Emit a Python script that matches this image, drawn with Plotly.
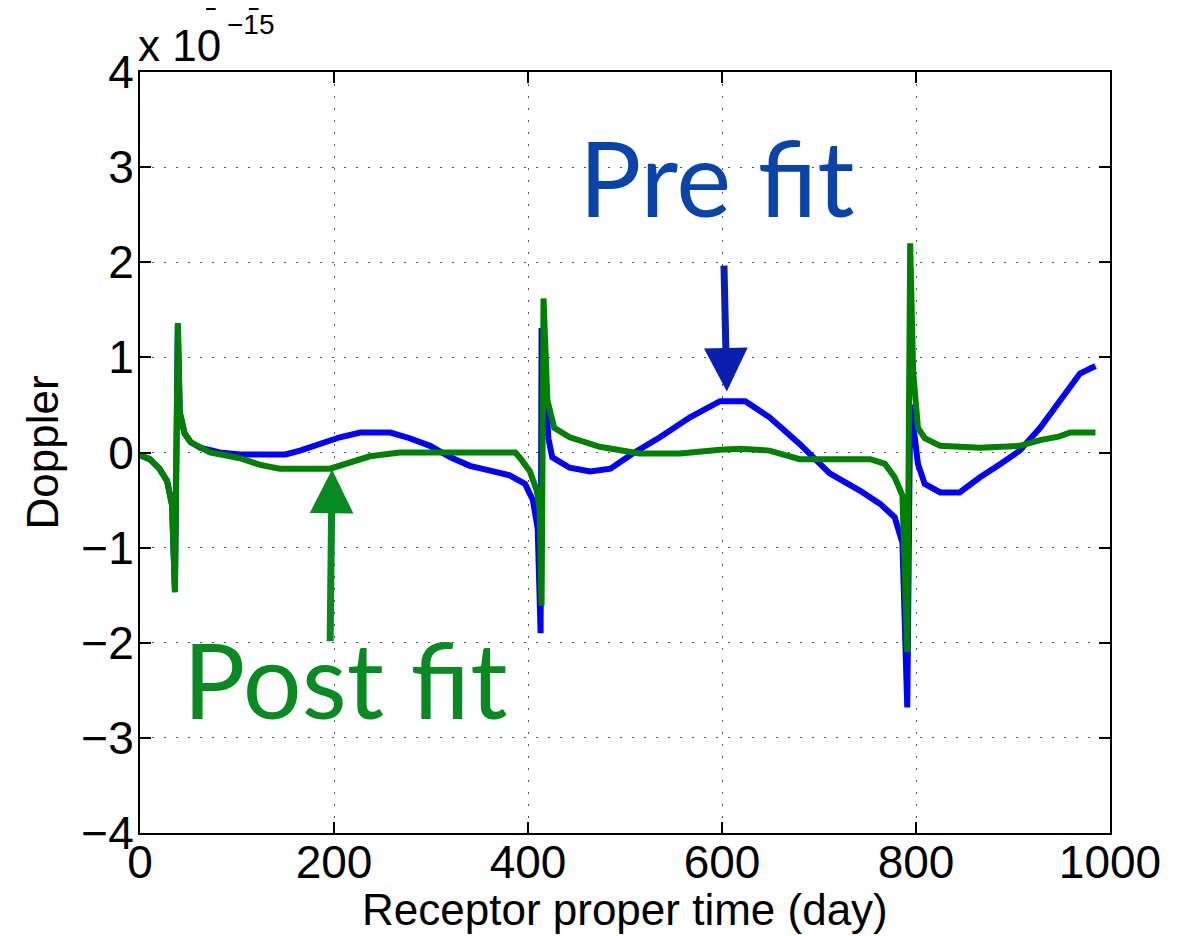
import plotly.graph_objects as go

# Pre-fit residual (blue), units of 1e-15
pre_x = [0, 10, 20, 28, 33, 36, 39, 41, 46, 52, 62, 82, 103, 150, 165, 186, 206, 227, 258, 278,
         299, 320, 340, 361, 381, 397, 405, 410, 413, 414, 419, 421, 425, 443, 464, 485, 508, 536,
         567, 598, 624, 649, 680, 711, 742, 763, 778, 786, 791, 794, 797, 802, 809, 825, 845, 866,
         887, 907, 928, 948, 969, 985]
pre_y = [-0.03, -0.07, -0.17, -0.3, -0.55, -1.45, 1.33, 0.42, 0.2, 0.11, 0.05, 0.0, -0.02, -0.02,
         0.02, 0.09, 0.16, 0.21, 0.21, 0.15, 0.07, -0.05, -0.14, -0.19, -0.24, -0.33, -0.5, -0.8,
         -1.9, 1.31, 0.4, 0.15, -0.05, -0.16, -0.2, -0.17, -0.01, 0.16, 0.37, 0.54, 0.54, 0.37,
         0.09, -0.22, -0.4, -0.54, -0.68, -0.95, -2.68, 0.5, 0.3, -0.12, -0.33, -0.42, -0.42,
         -0.26, -0.12, 0.02, 0.26, 0.55, 0.83, 0.91]

# Post-fit residual (green), units of 1e-15
post_x = [0, 10, 20, 28, 33, 36, 39, 41, 46, 52, 72, 103, 124, 144, 196, 216, 237, 268, 387, 392,
          402, 409, 412, 414, 416, 420, 427, 443, 474, 515, 557, 598, 619, 649, 680, 753, 768, 778,
          786, 791, 794, 797, 802, 809, 825, 866, 907, 928, 948, 959, 985]
post_y = [-0.03, -0.07, -0.17, -0.3, -0.55, -1.47, 1.36, 0.42, 0.2, 0.11, 0.0, -0.06, -0.13, -0.17,
          -0.17, -0.1, -0.04, 0.0, 0.0, -0.06, -0.2, -0.4, -0.6, -1.61, 1.62, 0.55, 0.26, 0.16,
          0.06, -0.01, -0.01, 0.03, 0.04, 0.02, -0.07, -0.07, -0.12, -0.26, -0.45, -2.1, 2.2, 0.86,
          0.26, 0.15, 0.07, 0.05, 0.07, 0.13, 0.17, 0.21, 0.21]

x_ticks = [0, 200, 400, 600, 800, 1000]
y_ticks = [-4, -3, -2, -1, 0, 1, 2, 3, 4]
y_tick_text = [str(v).replace("-", "\u2212") for v in y_ticks]

fig = go.Figure()
fig.add_trace(go.Scatter(x=pre_x, y=pre_y, mode="lines", name="Pre fit",
                         line=dict(color="#0000FF", width=6)))
fig.add_trace(go.Scatter(x=post_x, y=post_y, mode="lines", name="Post fit",
                         line=dict(color="#008000", width=6)))

axis_common = dict(
    showline=True, linecolor="black", linewidth=2, mirror="ticks",
    ticks="inside", ticklen=11, tickwidth=1.5, tickcolor="black",
    showgrid=True, gridcolor="#555555", gridwidth=1, griddash="2px,10px",
    zeroline=False,
    tickfont=dict(family="Liberation Sans", size=46, color="black"),
)

fig.update_xaxes(range=[0, 1000], tickvals=x_ticks, ticktext=[str(v) for v in x_ticks],
                 ticklabelstandoff=-12, **axis_common)
fig.update_yaxes(range=[-4, 4], tickvals=y_ticks, ticktext=y_tick_text,
                 ticklabelstandoff=-5, **axis_common)

annotations = [
    # axis titles
    dict(x=0.5, y=-0.101, xref="paper", yref="paper", text="Receptor proper time (day)",
         showarrow=False, xanchor="center", yanchor="middle",
         font=dict(family="Liberation Sans", size=44, color="black")),
    dict(x=-0.101, y=0.5, xref="paper", yref="paper", text="Doppler", textangle=-90,
         showarrow=False, xanchor="center", yanchor="middle",
         font=dict(family="Liberation Sans", size=44, color="black")),
    # cropped title at the very top (only its descenders remain visible)
    dict(x=-0.035, y=1.0795, xref="paper", yref="paper", text="<b>Doppler</b>",
         showarrow=False, xanchor="left", yanchor="bottom",
         font=dict(family="Liberation Sans", size=70, color="black")),
    # Pre fit label and arrow
    dict(x=595, y=2.9, xref="x", yref="y", text="Pre fit", showarrow=False,
         font=dict(family="Lato", size=104, color="#0A44A8"), xanchor="center", yanchor="middle"),
    dict(x=605, y=0.64, ax=602, ay=1.98, xref="x", yref="y", axref="x", ayref="y",
         text="", showarrow=True, arrowhead=2, arrowwidth=7, arrowsize=1.25,
         arrowcolor="#0A1FB0"),
    # Post fit label and arrow
    dict(x=211, y=-2.38, xref="x", yref="y", text="Post fit", showarrow=False,
         font=dict(family="Lato", size=104, color="#078A22"), xanchor="center", yanchor="middle"),
    dict(x=198, y=-0.18, ax=196, ay=-2.0, xref="x", yref="y", axref="x", ayref="y",
         text="", showarrow=True, arrowhead=2, arrowwidth=7, arrowsize=1.25,
         arrowcolor="#078A22"),
    # exponent label
    dict(x=0, y=1.0, xref="paper", yref="paper", text="x 10", showarrow=False,
         xanchor="left", yanchor="bottom", yshift=0, xshift=-4,
         font=dict(family="Liberation Sans", size=44, color="black")),
    dict(x=0, y=1.0, xref="paper", yref="paper", text="\u221215", showarrow=False,
         xanchor="left", yanchor="bottom", yshift=30, xshift=85,
         font=dict(family="Liberation Sans", size=28, color="black")),
]
fig.update_layout(
    width=1182, height=928,
    margin=dict(l=132, r=80, t=64, b=103),
    paper_bgcolor="white", plot_bgcolor="white",
    showlegend=False,
    annotations=annotations,
)

fig.write_html("out.html")
